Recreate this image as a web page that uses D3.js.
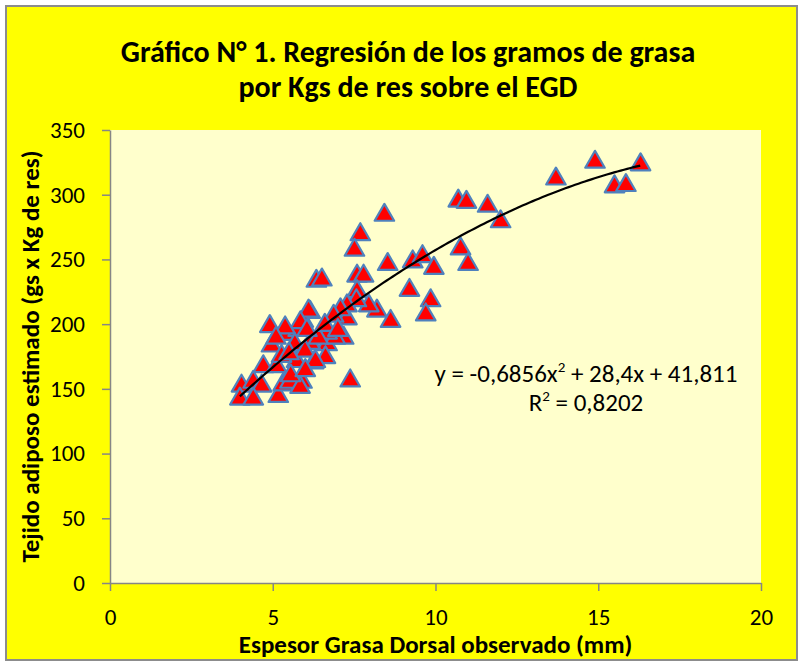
<!doctype html>
<html>
<head>
<meta charset="utf-8">
<style>
  body { margin: 0; background: #ffffff; }
  text { font-family: Carlito, Lato, "Liberation Sans", sans-serif; }
</style>
<script src="https://d3js.org/d3.v7.min.js"></script>
</head>
<body>
<svg width="803" height="666"></svg>
<script>

// espesor grasa dorsal observado (mm)
var egd = [14.9, 16.3, 13.7, 15.5, 15.85, 10.7, 10.95, 11.6, 12.0, 8.43,
           10.77, 11.0, 8.53, 9.3, 9.6, 9.95, 9.2, 9.85, 9.7, 8.62,
           8.2, 7.95, 7.69, 7.51, 6.34, 6.51, 7.59, 7.79, 7.59, 7.38,
           7.18, 7.28, 7.57, 7.28, 7.08, 6.87, 6.67, 6.15, 6.26, 6.62,
           6.92, 6.15, 5.9, 4.91, 5.37, 4.96, 5.78, 5.94, 5.68, 4.71,
           5.12, 5.73, 4.04, 4.4, 4.66, 3.99, 4.4, 5.17, 5.32, 5.53,
           5.84, 5.27, 5.99, 6.67, 6.1, 5.85, 5.38, 6.31, 5.55, 6.0,
           6.4, 5.1, 6.05, 5.5, 6.6, 7.0];
// tejido adiposo estimado (gs x Kg de res)
var tejido = [326, 324, 313, 307, 308, 296, 295, 292, 280, 285,
              259, 247, 247, 249, 253, 244, 227, 219, 208, 203,
              211, 215, 270, 258, 234, 235, 238, 238, 226, 157,
              190, 205, 219, 215, 212, 207, 185, 210, 171, 175,
              190, 186, 156, 199, 193, 184, 196, 203, 185, 168,
              168, 172, 153, 156, 153, 143, 143, 145, 154, 156,
              152, 176, 180, 194, 211, 202, 198, 172, 161, 165,
              190, 190, 196, 178, 200, 196];

var xTicks = [0, 5, 10, 15, 20];
var yTicks = [0, 50, 100, 150, 200, 250, 300, 350];
// y = a x^2 + b x + c
var coef = [-0.6856, 28.4, 41.811];
var ecuacion = ["y = -0,6856x", "2", " + 28,4x + 41,811"];
var r2 = "0,8202";

var titulo = ["Gráfico N° 1. Regresión de los gramos de grasa", "por Kgs de res sobre el EGD"];
var tituloX = "Espesor Grasa Dorsal observado (mm)";
var tituloY = "Tejido adiposo estimado (gs x Kg de res)";

var svg = d3.select("svg");
var pLeft = 110, pRight = 761, pTop = 130, pBottom = 583;

svg.append("rect")
   .attr("x", 6).attr("y", 6)
   .attr("width", 791).attr("height", 654)
   .attr("fill", "#ffff00")
   .attr("stroke", "#8c8c8c")
   .attr("stroke-width", 2);

svg.append("rect")
   .attr("x", pLeft).attr("y", pTop)
   .attr("width", pRight - pLeft).attr("height", pBottom - pTop)
   .attr("fill", "#ffffcc");

var x = d3.scaleLinear().domain([0, 20]).range([pLeft, pRight]);
var y = d3.scaleLinear().domain([0, 350]).range([pBottom, pTop]);

// titulo
svg.append("text")
   .attr("text-anchor", "middle")
   .attr("font-size", "30px")
   .attr("font-weight", "bold")
   .selectAll("tspan")
   .data(titulo).enter()
   .append("tspan")
   .attr("x", 408)
   .attr("y", function(d, i) { return 62 + i * 35; })
   .text(function(d) { return d; });

// ejes
svg.append("g")
   .attr("transform", "translate(0," + pBottom + ")")
   .call(d3.axisBottom(x).tickValues(xTicks).tickSize(8).tickSizeOuter(0).tickPadding(18));

svg.append("g")
   .attr("transform", "translate(" + pLeft + ",0)")
   .call(d3.axisLeft(y).tickValues(yTicks).tickSize(8).tickSizeOuter(0).tickPadding(17));

svg.selectAll(".domain, .tick line").attr("stroke", "#868686").attr("stroke-width", 1.5);
svg.selectAll(".tick text")
   .attr("font-size", "23px")
   .attr("fill", "#000")
   .style("font-family", "Carlito, Lato, 'Liberation Sans', sans-serif");

svg.append("text")
   .attr("x", (pLeft + pRight) / 2).attr("y", 653)
   .attr("text-anchor", "middle")
   .attr("font-size", "25px")
   .attr("font-weight", "bold")
   .text(tituloX);

svg.append("text")
   .attr("transform", "translate(39," + ((pTop + pBottom) / 2) + ") rotate(-90)")
   .attr("text-anchor", "middle")
   .attr("font-size", "25px")
   .attr("font-weight", "bold")
   .text(tituloY);

// linea de tendencia
var xs = d3.range(d3.min(egd), d3.max(egd) + 0.001, 0.1);
var line = d3.line()
   .x(function(d) { return x(d); })
   .y(function(d) { return y(coef[0] * d * d + coef[1] * d + coef[2]); })
   .curve(d3.curveMonotoneX);

// puntos
var tri = d3.symbol().type(d3.symbolTriangle).size(165);
svg.append("g")
   .selectAll("path")
   .data(egd).enter()
   .append("path")
   .attr("d", tri)
   .attr("transform", function(d, i) { return "translate(" + x(d) + "," + (y(tejido[i]) + 1) + ")"; })
   .attr("fill", "#ff0000")
   .attr("stroke", "#4f81bd")
   .attr("stroke-width", 2.2)
   .attr("stroke-linejoin", "round");

svg.append("path")
   .datum(xs)
   .attr("d", line)
   .attr("fill", "none")
   .attr("stroke", "#000")
   .attr("stroke-width", 2.2);

// ecuacion
var eq = svg.append("text")
   .attr("x", 586).attr("y", 382)
   .attr("text-anchor", "middle")
   .attr("font-size", "25px");
eq.append("tspan").text(ecuacion[0]);
eq.append("tspan").attr("dy", -10).attr("font-size", "15px").text(ecuacion[1]);
eq.append("tspan").attr("dy", 10).text(ecuacion[2]);

var rr = svg.append("text")
   .attr("x", 586).attr("y", 411)
   .attr("text-anchor", "middle")
   .attr("font-size", "25px");
rr.append("tspan").text("R");
rr.append("tspan").attr("dy", -10).attr("font-size", "15px").text("2");
rr.append("tspan").attr("dy", 10).text(" = " + r2);

</script>
</body>
</html>
